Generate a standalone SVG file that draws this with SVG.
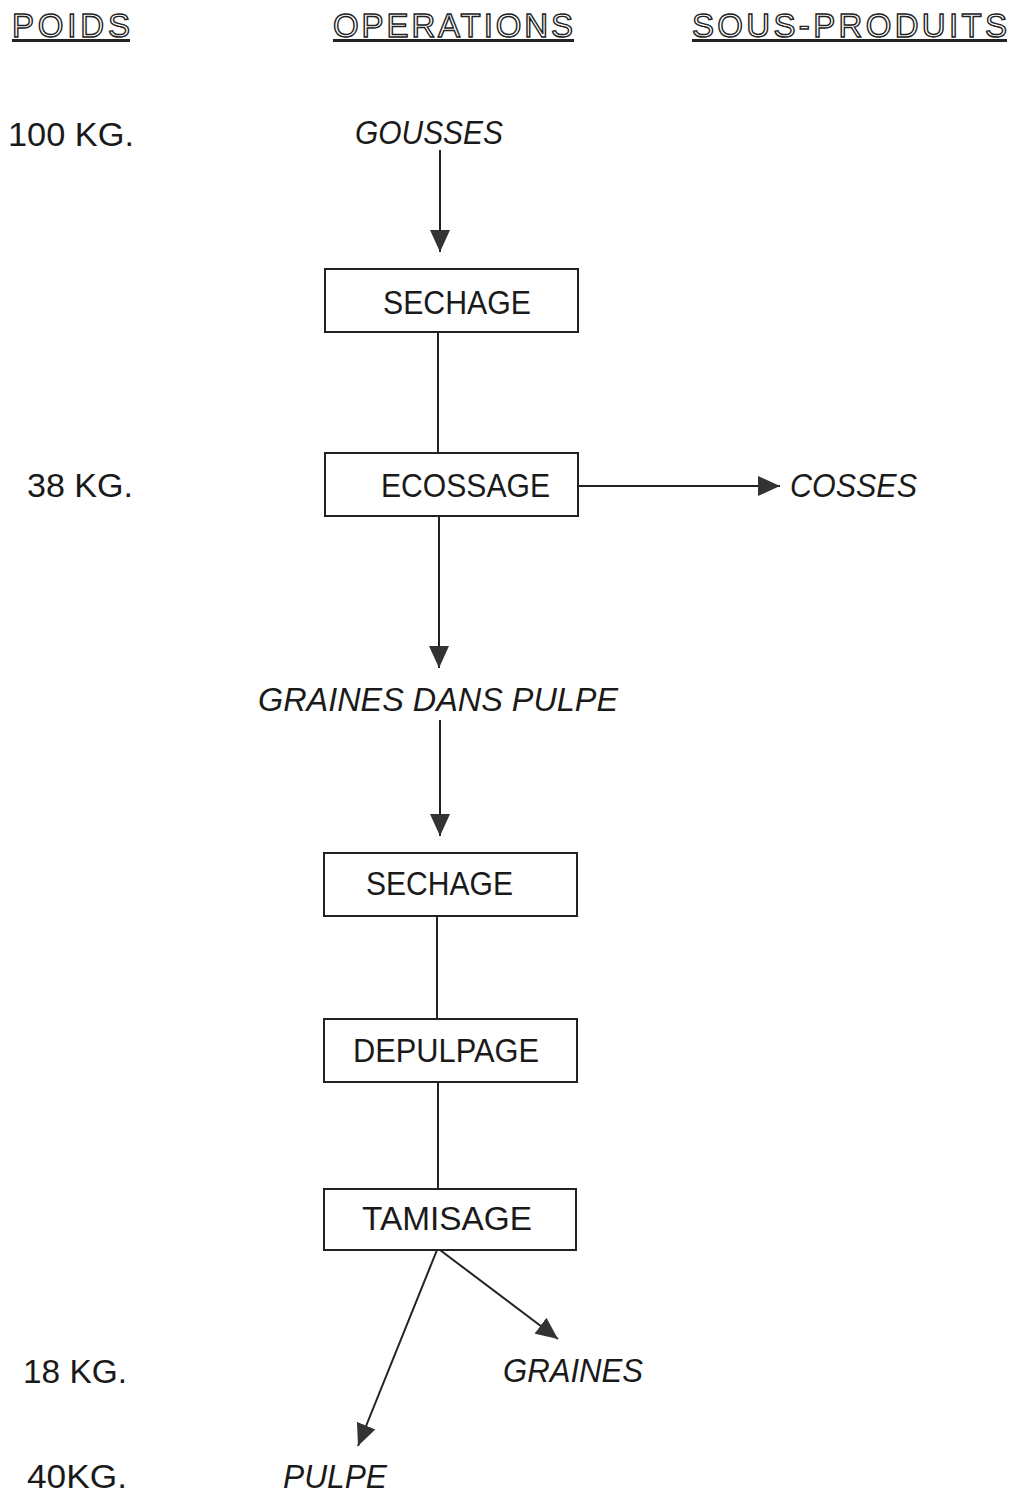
<svg xmlns="http://www.w3.org/2000/svg" width="1016" height="1496" viewBox="0 0 1016 1496">
<defs>
<style>
.hdr{font-family:"Liberation Sans",Arial,sans-serif;font-size:33px;fill:#fff;stroke:#222;stroke-width:1.4}
.ul{fill:#222}
.t{font-family:"Liberation Sans",Arial,sans-serif;font-size:33px;fill:#1a1a1a}
.i{font-style:italic}
.box{fill:#fff;stroke:#222;stroke-width:2}
.ln{stroke:#222;stroke-width:2;fill:none}
</style>
<marker id="ah" viewBox="0 0 22 20" refX="22" refY="10" markerWidth="22" markerHeight="20" markerUnits="userSpaceOnUse" orient="auto">
<path d="M0,0 L22,10 L0,20 Z" fill="#333"/>
</marker>
</defs>
<rect width="1016" height="1496" fill="#fff"/>

<g id="headers">
<text class="hdr" x="12" y="37" textLength="118" lengthAdjust="spacing">POIDS</text>
<rect class="ul" x="12" y="39" width="118" height="3"/>
<text class="hdr" x="333" y="37" textLength="240" lengthAdjust="spacing">OPERATIONS</text>
<rect class="ul" x="333" y="39" width="241" height="3"/>
<text class="hdr" x="692" y="37" textLength="315" lengthAdjust="spacing">SOUS-PRODUITS</text>
<rect class="ul" x="692" y="39" width="315" height="3"/>
</g>

<g id="weights">
<text class="t" x="8" y="146" textLength="126" lengthAdjust="spacingAndGlyphs">100 KG.</text>
<text class="t" x="27" y="497" textLength="106" lengthAdjust="spacingAndGlyphs">38 KG.</text>
<text class="t" x="23" y="1383" textLength="104" lengthAdjust="spacingAndGlyphs">18 KG.</text>
<text class="t" x="27" y="1488" textLength="100" lengthAdjust="spacingAndGlyphs">40KG.</text>
</g>

<g id="connectors">
<line class="ln" x1="440" y1="150" x2="440" y2="252" marker-end="url(#ah)"/>
<line class="ln" x1="438" y1="332" x2="438" y2="453"/>
<line class="ln" x1="578" y1="486" x2="780" y2="486" marker-end="url(#ah)"/>
<line class="ln" x1="439" y1="516" x2="439" y2="668" marker-end="url(#ah)"/>
<line class="ln" x1="440" y1="720" x2="440" y2="836" marker-end="url(#ah)"/>
<line class="ln" x1="437" y1="916" x2="437" y2="1019"/>
<line class="ln" x1="438" y1="1082" x2="438" y2="1189"/>
<line class="ln" x1="440" y1="1250" x2="558" y2="1339" marker-end="url(#ah)"/>
<line class="ln" x1="437" y1="1250" x2="358" y2="1446" marker-end="url(#ah)"/>
</g>

<g id="gousses">
<text class="t i" x="355" y="144" textLength="148" lengthAdjust="spacingAndGlyphs">GOUSSES</text>
</g>

<g id="sechage1">
<rect class="box" x="325" y="269" width="253" height="63"/>
<text class="t" x="383" y="314" textLength="148" lengthAdjust="spacingAndGlyphs">SECHAGE</text>
</g>

<g id="ecossage">
<rect class="box" x="325" y="453" width="253" height="63"/>
<text class="t" x="381" y="497" textLength="169" lengthAdjust="spacingAndGlyphs">ECOSSAGE</text>
</g>

<g id="cosses">
<text class="t i" x="790" y="497" textLength="127" lengthAdjust="spacingAndGlyphs">COSSES</text>
</g>

<g id="graines-dans-pulpe">
<text class="t i" x="258" y="711" textLength="360" lengthAdjust="spacingAndGlyphs">GRAINES DANS PULPE</text>
</g>

<g id="sechage2">
<rect class="box" x="324" y="853" width="253" height="63"/>
<text class="t" x="366" y="895" textLength="147" lengthAdjust="spacingAndGlyphs">SECHAGE</text>
</g>

<g id="depulpage">
<rect class="box" x="324" y="1019" width="253" height="63"/>
<text class="t" x="353" y="1062" textLength="186" lengthAdjust="spacingAndGlyphs">DEPULPAGE</text>
</g>

<g id="tamisage">
<rect class="box" x="324" y="1189" width="252" height="61"/>
<text class="t" x="362" y="1230" textLength="170" lengthAdjust="spacingAndGlyphs">TAMISAGE</text>
</g>

<g id="graines">
<text class="t i" x="503" y="1382" textLength="140" lengthAdjust="spacingAndGlyphs">GRAINES</text>
</g>

<g id="pulpe">
<text class="t i" x="283" y="1488" textLength="104" lengthAdjust="spacingAndGlyphs">PULPE</text>
</g>
</svg>
